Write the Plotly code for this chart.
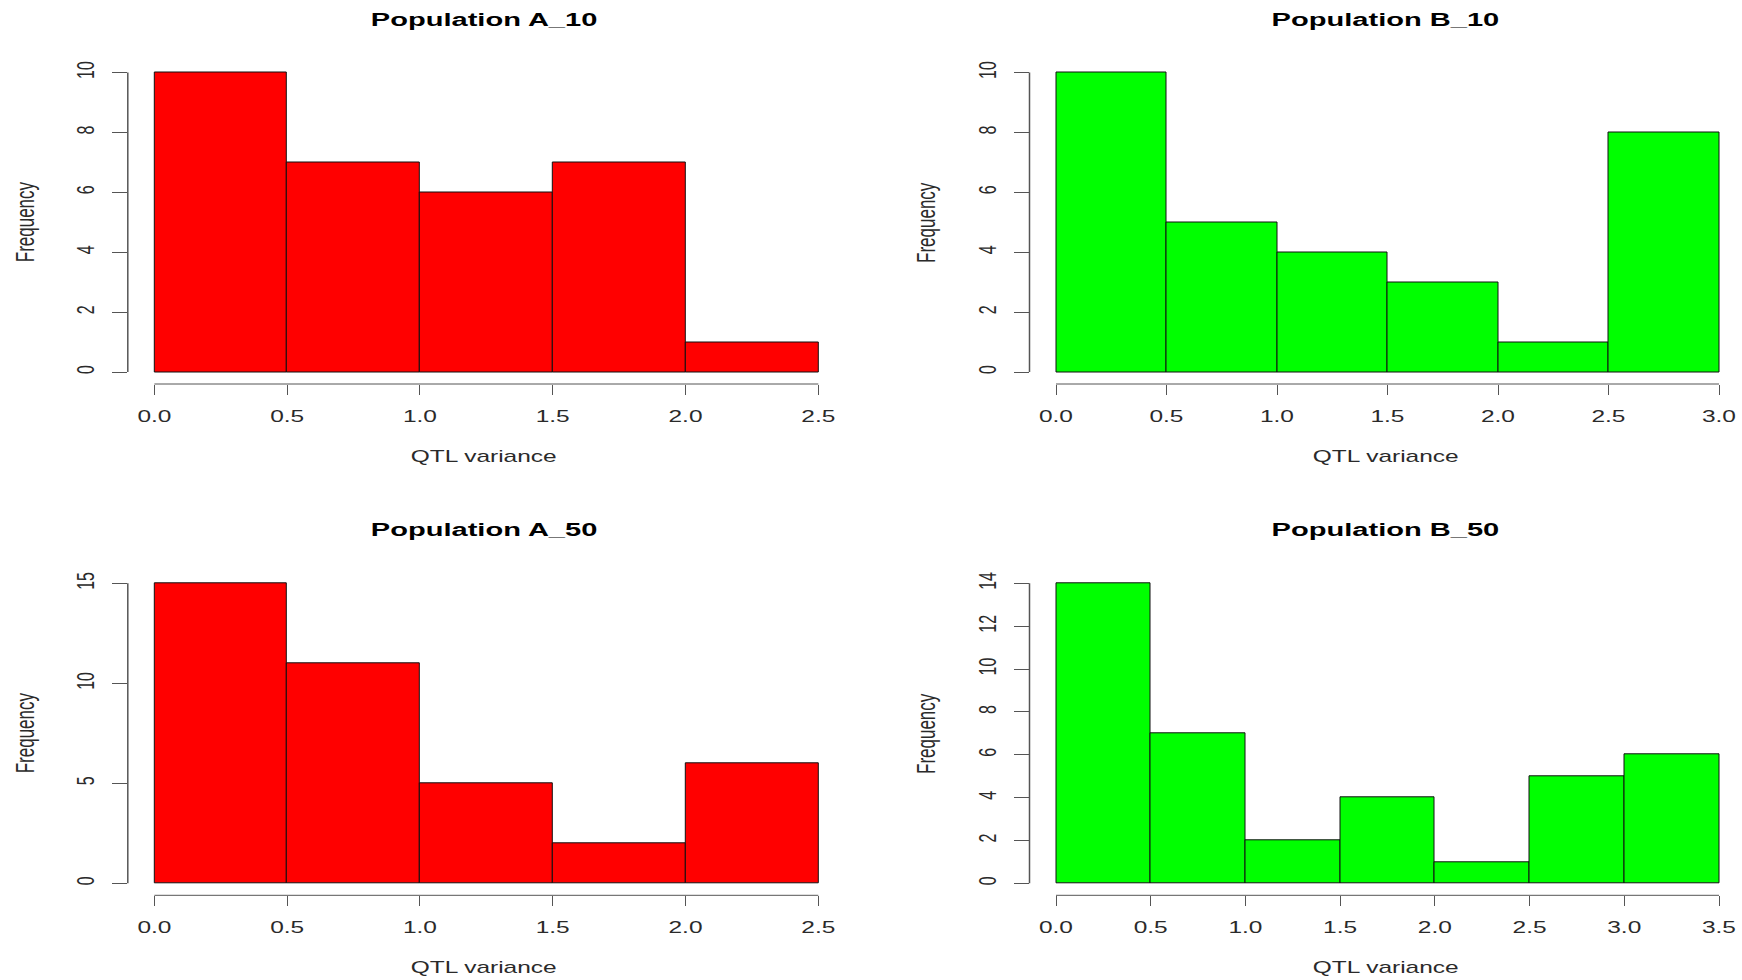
import plotly.graph_objects as go

# Histogram counts per 0.5-wide bin of QTL variance
bin_width = 0.5
counts_a10 = [10, 7, 6, 7, 1]
counts_b10 = [10, 5, 4, 3, 1, 8]
counts_a50 = [15, 11, 5, 2, 6]
counts_b50 = [14, 7, 2, 4, 1, 5, 6]

titles = ["Population A_10", "Population B_10", "Population A_50", "Population B_50"]
yticks_a10 = [0, 2, 4, 6, 8, 10]
yticks_b10 = [0, 2, 4, 6, 8, 10]
yticks_a50 = [0, 5, 10, 15]
yticks_b50 = [0, 2, 4, 6, 8, 10, 12, 14]

RED = "#FF0000"
GREEN = "#00FF00"
AXIS_COL = "#555555"
TEXT_COL = "#2a2a2a"
FONT = "Liberation Sans, Arial, sans-serif"

W, H = 1742, 980
TEXT_STRETCH = 1.53  # horizontal widening of all text, as in the wide-format export

panels = [
    dict(counts=counts_a10, yticks=yticks_a10, color=RED, title=titles[0], col=0, row=0),
    dict(counts=counts_b10, yticks=yticks_b10, color=GREEN, title=titles[1], col=1, row=0),
    dict(counts=counts_a50, yticks=yticks_a50, color=RED, title=titles[2], col=0, row=1),
    dict(counts=counts_b50, yticks=yticks_b50, color=GREEN, title=titles[3], col=1, row=1),
]

# per column: pixel of first break, pixel of last break, plot-region left/right
col_geom = [
    dict(x0=154.4, xend=818.3, left=127.8, right=844.9, cx=483.5),
    dict(x0=1056.0, xend=1719.0, left=1029.5, right=1742.0, cx=1385.5),
]
# per row: plot-region top/bottom in pixels
row_geom = [
    dict(top=60.5, bottom=384.0, title_y=19.0, xlab_y=456.7),
    dict(top=571.3, bottom=895.3, title_y=529.5, xlab_y=967.7),
]


def px_x(x):
    return x / W


def px_y(y):
    return 1 - y / H


fig = go.Figure()
layout = dict(
    width=W, height=H, autosize=False,
    margin=dict(l=0, r=0, t=0, b=0),
    plot_bgcolor="white", paper_bgcolor="white",
    showlegend=False, bargap=0,
    font=dict(family=FONT, color=TEXT_COL, size=16),
)
shapes = []
annotations = []

for i, p in enumerate(panels, start=1):
    counts = p["counts"]
    n = len(counts)
    xmax = n * bin_width
    ymax = max(counts)
    centers = [bin_width * (k + 0.5) for k in range(n)]
    xs = "x" if i == 1 else f"x{i}"
    ys = "y" if i == 1 else f"y{i}"
    fig.add_trace(go.Bar(
        x=centers, y=counts, width=[bin_width] * n,
        marker=dict(color=p["color"], line=dict(color="#111111", width=1)),
        xaxis=xs, yaxis=ys, hoverinfo="x+y",
    ))
    cg = col_geom[p["col"]]
    rg = row_geom[p["row"]]
    ppu = (cg["xend"] - cg["x0"]) / xmax
    xrange = [(cg["left"] - cg["x0"]) / ppu, (cg["right"] - cg["x0"]) / ppu]
    xticks = [bin_width * k for k in range(n + 1)]
    xkey = "xaxis" if i == 1 else f"xaxis{i}"
    ykey = "yaxis" if i == 1 else f"yaxis{i}"
    layout[xkey] = dict(
        domain=[px_x(cg["left"]), px_x(cg["right"])], anchor=ys,
        range=xrange,
        tickvals=xticks, ticktext=[f"{v:.1f}" for v in xticks],
        ticks="outside", ticklen=10, tickcolor=AXIS_COL, tickwidth=1,
        showline=False, showgrid=False, zeroline=False,
        tickfont=dict(size=16, color=TEXT_COL), ticklabelstandoff=8,
        fixedrange=True,
    )
    layout[ykey] = dict(
        domain=[px_y(rg["bottom"]), px_y(rg["top"])], anchor=xs,
        range=[-0.04 * ymax, 1.04 * ymax],
        tickvals=p["yticks"], ticktext=[str(v) for v in p["yticks"]],
        ticks="outside", ticklen=15, tickcolor=AXIS_COL, tickwidth=1,
        tickangle=-90,
        showline=False, showgrid=False, zeroline=False,
        tickfont=dict(size=16, color=TEXT_COL), ticklabelstandoff=14,
        fixedrange=True,
    )
    # axis lines only span the labelled tick range
    shapes.append(dict(type="line", xref=xs, yref=f"{ys} domain",
                       x0=0, x1=xmax, y0=0, y1=0,
                       line=dict(color=AXIS_COL, width=1)))
    shapes.append(dict(type="line", xref=f"{xs} domain", yref=ys,
                       x0=0, x1=0, y0=p["yticks"][0], y1=p["yticks"][-1],
                       line=dict(color=AXIS_COL, width=1.5)))
    annotations.append(dict(
        text=f"<b>{p['title']}</b>", xref="paper", yref="paper",
        x=px_x(cg["cx"]), y=px_y(rg["title_y"]), xanchor="center", yanchor="middle",
        showarrow=False, font=dict(size=19, color="black", family=FONT),
    ))
    annotations.append(dict(
        text="QTL variance", xref="paper", yref="paper",
        x=px_x(cg["cx"]), y=px_y(rg["xlab_y"]), xanchor="center", yanchor="middle",
        showarrow=False, font=dict(size=16, color=TEXT_COL, family=FONT),
    ))
    annotations.append(dict(
        text="Frequency", xref="paper", yref="paper",
        x=px_x(cg["left"] - 102.8), y=px_y((rg["top"] + rg["bottom"]) / 2),
        xanchor="center", yanchor="middle",
        textangle=-90, showarrow=False, font=dict(size=17, color=TEXT_COL, family=FONT),
    ))

layout["shapes"] = shapes
layout["annotations"] = annotations
fig.update_layout(**layout)

# Widen every text element horizontally (in screen space) about its own centre.
stretch_js = """
var gd = document.getElementById('{plot_id}');
var svg = gd.querySelector('svg.main-svg');
var S = %s;
gd.querySelectorAll('text').forEach(function (el) {
  if (!el.textContent || !el.textContent.trim()) return;
  var r = el.getBoundingClientRect();
  if (!r.width) return;
  var P = el.parentNode.getScreenCTM();
  if (!P) return;
  var cx = r.left + r.width / 2;
  var Sx = svg.createSVGMatrix().translate(cx, 0).scaleNonUniform(S, 1).translate(-cx, 0);
  var M = P.inverse().multiply(Sx).multiply(P);
  var old = el.getAttribute('transform') || '';
  el.setAttribute('transform', 'matrix(' + [M.a, M.b, M.c, M.d, M.e, M.f].join(',') + ') ' + old);
});
""" % TEXT_STRETCH

fig.write_html("out.html", config={"displayModeBar": False}, post_script=stretch_js)
